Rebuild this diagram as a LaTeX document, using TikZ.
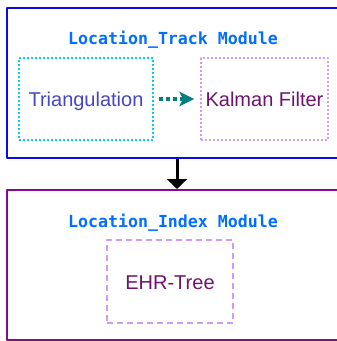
\documentclass[tikz,border=0pt]{standalone}
\usepackage{fontspec}
\setmainfont{Liberation Sans}
\newfontfamily\titlefont{DejaVu Sans Mono}
\usetikzlibrary{arrows.meta}
\definecolor{frameblue}{RGB}{10,10,235}
\definecolor{titleblue}{RGB}{0,110,255}
\definecolor{dotcyan}{RGB}{0,205,240}
\definecolor{lilac}{RGB}{205,155,250}
\definecolor{teal}{RGB}{0,128,128}
\definecolor{framepurple}{RGB}{135,10,140}
\definecolor{txtblue}{RGB}{70,70,195}
\definecolor{txtpurple}{RGB}{110,20,110}
\begin{document}
\begin{tikzpicture}[x=1pt, y=-1pt, line join=round,
	modbox/.style={draw, line width=2pt, minimum width=340pt, minimum height=150pt, inner sep=0pt},
	modtitle/.style={anchor=base, text=titleblue, font=\titlefont\bfseries\fontsize{16.6}{18}\selectfont},
	partbox/.style={line width=1.8pt, inner sep=0pt, text height=15pt, text depth=0pt, font=\fontsize{20}{22}\selectfont}]
	\useasboundingbox (0,0) rectangle (337,341);
	\node[modbox, frameblue] (trackmod) at (177,83) {};
	\node[modbox, framepurple] (indexmod) at (177,265) {};
	\node[modtitle] (tracktitle) at (173,44) {Location\_Track Module};
	\node[modtitle] (indextitle) at (173,227) {Location\_Index Module};
	\node[partbox, draw=dotcyan, dash pattern=on 1.8pt off 2.2pt, text=txtblue, minimum width=134pt, minimum height=82pt] (tri) at (86,99) {Triangulation};
	\node[partbox, draw=lilac, dash pattern=on 1.8pt off 2.2pt, text=txtpurple, minimum width=127pt, minimum height=82pt] (kal) at (264.5,99) {Kalman Filter};
	\node[partbox, draw=lilac, dash pattern=on 6pt off 4pt, text=txtpurple, minimum width=126pt, minimum height=83pt] (ehr) at (170,281.5) {EHR-Tree};
	\draw[teal, line width=4pt, dash pattern=on 4pt off 3pt, shorten <=5pt, shorten >=6pt, -{Stealth[length=15pt, width=15pt, inset=4pt, line width=0pt]}] (tri) -- (kal);
	\draw[line width=3pt, -{Triangle[length=10pt, width=20pt]}] (trackmod) -- (indexmod);
\end{tikzpicture}
\end{document}
